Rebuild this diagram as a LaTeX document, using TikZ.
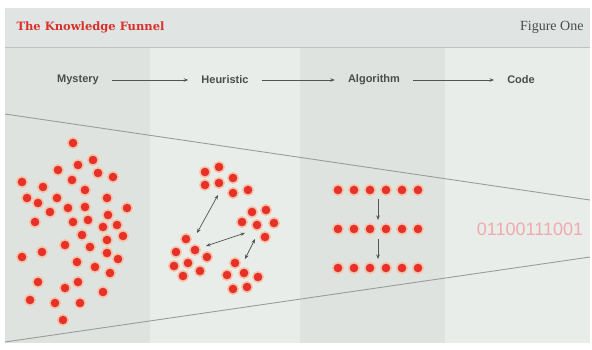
\documentclass[tikz,border=0pt]{standalone}
\usepackage{fontspec}
\setmainfont{Liberation Serif}
\setsansfont{Liberation Sans}
\newfontfamily\slabfont{DejaVu Serif}
\usetikzlibrary{arrows.meta}
\definecolor{dotred}{HTML}{E5312A}
\definecolor{dothalo}{HTML}{F7C3A6}
\definecolor{titlered}{HTML}{D9302B}
\definecolor{binpink}{HTML}{F0A9AC}
\definecolor{stagegray}{HTML}{4A4D4C}
\definecolor{linkgray}{HTML}{4F5553}
\definecolor{headgray}{HTML}{E0E4E2}
\definecolor{colA}{HTML}{DEE3E0}
\definecolor{colB}{HTML}{E9EDEA}
\definecolor{funnelgray}{HTML}{979D9B}
\tikzset{
  dot/.style={circle, fill=dotred, draw=dothalo, line width=1.5pt, inner sep=0pt, minimum size=10.5pt},
  stage/.style={font=\sffamily\bfseries\fontsize{11}{13}\selectfont, text=stagegray, inner xsep=13pt},
  link/.style={draw=linkgray, line width=0.7pt, -{Stealth[length=4.5pt,width=3.5pt]}},
  twolink/.style={link, {Stealth[length=4.5pt,width=3.5pt]}-{Stealth[length=4.5pt,width=3.5pt]}},
}
\begin{document}
\begin{tikzpicture}[x=1pt,y=-1pt]
  \useasboundingbox (0,0) rectangle (592,349);
  \fill[white] (0,0) rectangle (592,349);
  \fill[headgray] (5,8) rectangle (590,47);
  \fill[colA] (5,47) rectangle (150,343);
  \fill[colB] (150,47) rectangle (300,343);
  \fill[colA] (300,47) rectangle (445,343);
  \fill[colB] (445,47) rectangle (590,343);
  \draw[headgray!85!black, line width=0.8pt] (5,47) -- (590,47);
  \draw[funnelgray, line width=0.9pt] (5,114) -- (590,200);
  \draw[funnelgray, line width=0.9pt] (5,342) -- (590,257);

  \node[anchor=west, font=\slabfont\bfseries\fontsize{11.5}{13}\selectfont, text=titlered] (title) at (13,27) {The Knowledge Funnel};
  \node[anchor=east, font=\fontsize{14}{16}\selectfont, text=stagegray] (figno) at (587,27) {Figure One};

  \node[stage] (mystery) at (78,80) {Mystery};
  \node[stage] (heuristic) at (225,80) {Heuristic};
  \node[stage] (algorithm) at (374,80) {Algorithm};
  \node[stage] (code) at (521,80) {Code};
  \draw[link] (mystery) -- (heuristic);
  \draw[link] (heuristic) -- (algorithm);
  \draw[link] (algorithm) -- (code);

  \foreach \x/\y [count=\i] in {73/143, 93/160, 78/165, 58/170, 98/173, 113/177, 22/182, 72/180,
      43/187, 85/190, 27/198, 57/198, 107/198, 38/203, 68/208, 85/207, 127/208, 50/212, 108/215,
      35/222, 73/222, 88/220, 103/227, 117/225, 82/235, 123/236, 107/240, 65/245, 90/247, 22/257,
      42/252, 107/253, 118/259, 77/262, 95/267, 110/273, 38/282, 78/282, 65/288, 103/292, 30/300,
      55/303, 80/303, 63/320}
    \node[dot] (m\i) at (\x,\y) {};

  \foreach \x/\y [count=\i] in {205/172, 219/167, 205/185, 219/183, 233/178, 233/193, 248/190}
    \node[dot] (ha\i) at (\x,\y) {};
  \foreach \x/\y [count=\i] in {252/212, 266/210, 242/222, 257/225, 274/223, 265/237}
    \node[dot] (hb\i) at (\x,\y) {};
  \foreach \x/\y [count=\i] in {186/239, 176/252, 195/250, 207/257, 174/266, 188/263, 200/271, 183/276}
    \node[dot] (hc\i) at (\x,\y) {};
  \foreach \x/\y [count=\i] in {235/263, 227/275, 244/273, 258/277, 233/289, 247/287}
    \node[dot] (hd\i) at (\x,\y) {};
  \coordinate (hup) at (218,195);
  \coordinate (hdown) at (197,233);
  \coordinate (hleft) at (206,246);
  \coordinate (hright) at (245,233);
  \coordinate (htop) at (255,239);
  \coordinate (hbot) at (245,259);
  \draw[twolink] (hup) -- (hdown);
  \draw[twolink] (hleft) -- (hright);
  \draw[twolink] (htop) -- (hbot);

  \foreach \r/\y in {1/190, 2/229, 3/268}
    \foreach \x [count=\k] in {338, 354, 370, 386, 402, 418}
      \node[dot] (a\r\k) at (\x,\y) {};
  \coordinate (afirst) at (378,199);
  \coordinate (asecond) at (378,220);
  \coordinate (athird) at (378,239);
  \coordinate (afourth) at (378,259);
  \draw[link] (afirst) -- (asecond);
  \draw[link] (athird) -- (afourth);

  \node[font=\sffamily\fontsize{18}{18}\selectfont, text=binpink] (bits) at (530,229) {01100111001};
\end{tikzpicture}
\end{document}
